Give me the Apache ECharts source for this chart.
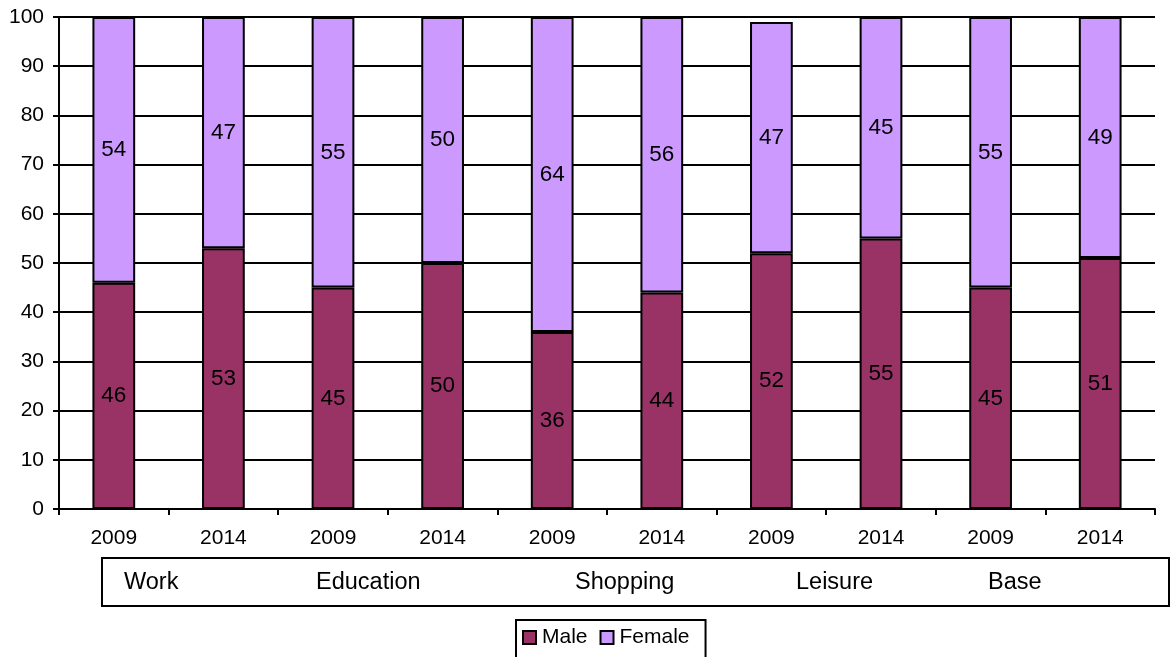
<!DOCTYPE html>
<html>
<head>
<meta charset="utf-8">
<script src="https://cdn.jsdelivr.net/npm/echarts@6/dist/echarts.min.js"></script>
<style>html,body{margin:0;padding:0;background:#fff;}#c{width:1171px;height:657px;}</style>
</head>
<body>
<div id="c"></div>
<script>
var categories = ['2009','2014','2009','2014','2009','2014','2009','2014','2009','2014'];
var groups = ['Work','Education','Shopping','Leisure','Base'];
var male = [46,53,45,50,36,44,52,55,45,51];
var female = [54,47,55,50,64,56,47,45,55,49];
var yTicks = [0,10,20,30,40,50,60,70,80,90,100];

var groupX = [124,316,575,796,988];
var FONT = 'Liberation Sans, Arial, sans-serif';

var chart = echarts.init(document.getElementById('c'));
var lbl = {show:true, position:'inside', color:'#000', fontSize:22.5, fontFamily:FONT};
var graphics = [{
  type:'rect', shape:{x:102,y:558,width:1067,height:48},
  style:{fill:'#fff', stroke:'#000', lineWidth:2}
}];
groups.forEach(function(g,i){
  graphics.push({type:'text', x:groupX[i], y:583,
    style:{text:g, fill:'#000', font:'23.5px '+FONT, textVerticalAlign:'middle', verticalAlign:'middle'}});
});
chart.setOption({
  animation:false,
  backgroundColor:'#fff',
  textStyle:{fontFamily:FONT},
  grid:{left:59, right:16, top:17, bottom:148, containLabel:false},
  legend:{
    data:['Male','Female'], top:620, left:516,
    icon:'rect', itemWidth:13, itemHeight:13, itemGap:12,
    borderColor:'#000', borderWidth:2, padding:[7,16,20,6],
    textStyle:{fontSize:21, color:'#000', fontFamily:FONT, padding:[0,0,0,1]}
  },
  xAxis:{
    type:'category', data:categories,
    axisLine:{lineStyle:{color:'#000', width:2}},
    axisTick:{show:true, length:6, lineStyle:{color:'#000', width:2}},
    axisLabel:{color:'#000', fontSize:21, fontFamily:FONT, margin:19}
  },
  yAxis:{
    type:'value', min:0, max:100, interval:10,
    axisLine:{show:true, lineStyle:{color:'#000', width:2}},
    axisTick:{show:true, length:6, lineStyle:{color:'#000', width:2}},
    axisLabel:{color:'#000', fontSize:21, fontFamily:FONT, margin:15,
      formatter:function(v){return yTicks.indexOf(v)>=0 ? String(v) : '';}},
    splitLine:{show:true, lineStyle:{color:'#000', width:2}}
  },
  series:[
    {name:'Male', type:'bar', stack:'a', data:male, barWidth:'39%', z:3,
     itemStyle:{color:'#993366', borderColor:'#000', borderWidth:2}, label:lbl},
    {name:'Female', type:'bar', stack:'a', data:female, barWidth:'39%', z:2,
     itemStyle:{color:'#CC99FF', borderColor:'#000', borderWidth:2}, label:lbl}
  ],
  graphic:graphics
});
</script>
</body>
</html>
